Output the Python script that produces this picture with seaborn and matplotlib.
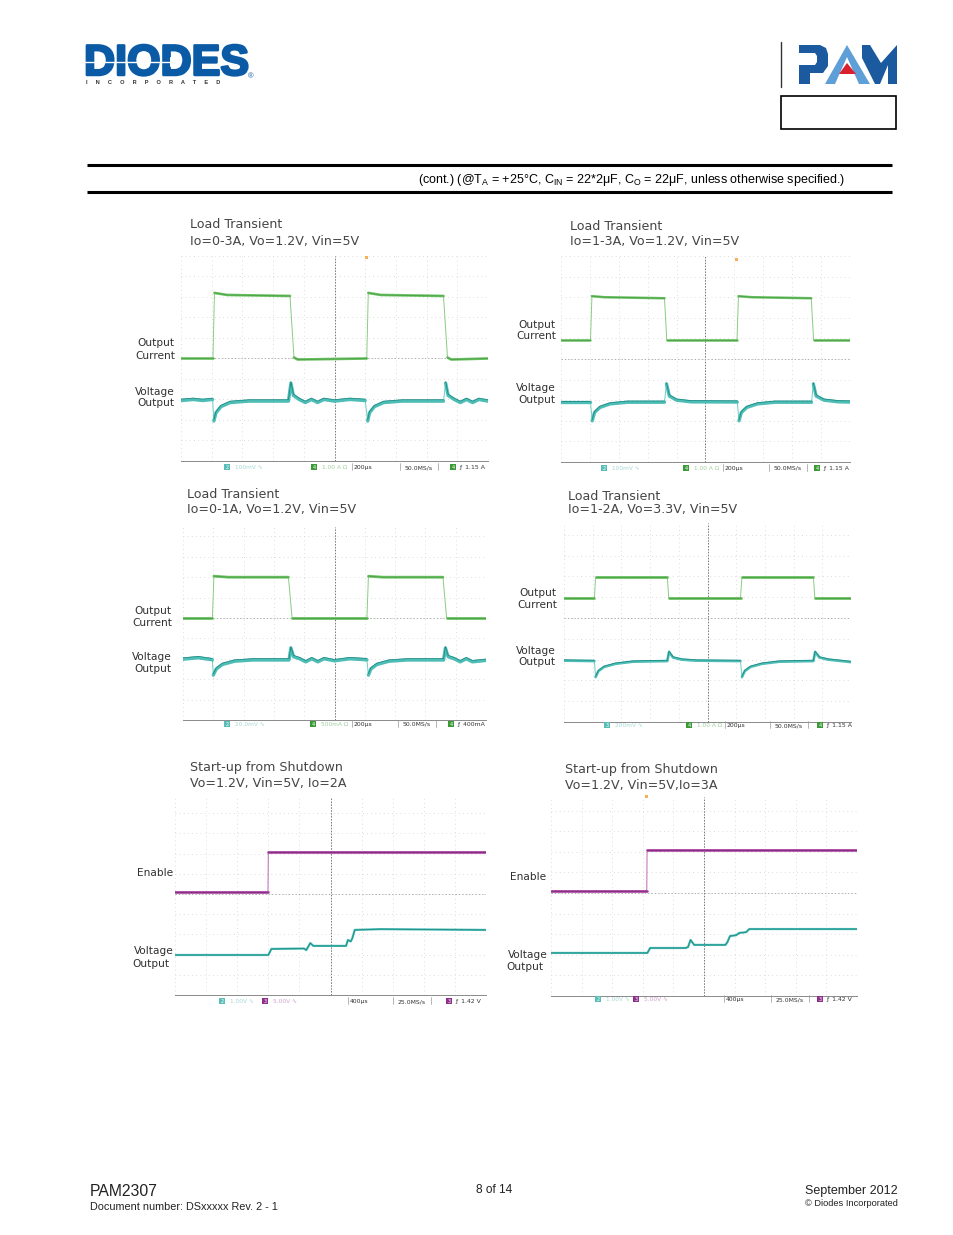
"""Datasheet page with six oscilloscope captures (load transient and start-up)."""

import matplotlib.patheffects as pe
import matplotlib.pyplot as plt
import pandas as pd
import seaborn as sns
from matplotlib.patches import Polygon, Rectangle

PAGE_W, PAGE_H = 954, 1235
GREEN, GREEN_DARK = "#6cc063", "#3f9a3c"
TEAL, TEAL_DARK = "#4dbdb5", "#127f7a"
PURPLE, PURPLE_DARK = "#a9429f", "#7c2478"
TITLE_GREY = "#454545"

# traces, in scope divisions
T1_CUR = [0, 1.04, 1.09, 1.5, 3.55, 3.68, 3.8, 6.05, 6.1, 6.5, 8.55, 8.68, 8.8, 10]
L1_CUR = [5.0, 5.0, 8.2, 8.1, 8.05, 5.05, 4.95, 5.0, 8.2, 8.1, 8.05, 5.05, 4.95, 5.0]
T1_VOLT = [0, 0.4, 0.7, 1.03, 1.07, 1.14, 1.3, 1.6, 2.2, 3.5, 3.58, 3.66, 3.85, 4.05, 4.25, 4.45, 4.65, 5.0, 5.5, 6.0, 6.08, 6.14, 6.3, 6.6, 7.2, 8.55, 8.62, 8.7, 8.9, 9.1, 9.3, 9.5, 9.7, 10]
L1_VOLT = [2.95, 3.0, 2.95, 3.0, 1.95, 2.35, 2.65, 2.85, 2.92, 2.92, 3.8, 3.2, 3.0, 2.85, 3.0, 2.85, 3.0, 2.92, 3.0, 2.95, 1.95, 2.35, 2.65, 2.85, 2.92, 2.92, 3.8, 3.2, 3.0, 2.85, 3.0, 2.85, 3.0, 2.92]

T2_CUR = [0, 1.02, 1.07, 1.5, 3.58, 3.66, 6.09, 6.14, 6.6, 8.66, 8.74, 10]
L2_CUR = [5.92, 5.92, 8.05, 8.0, 7.95, 5.92, 5.92, 8.05, 8.0, 7.95, 5.92, 5.92]
T2_VOLT = [0, 1.02, 1.08, 1.16, 1.35, 1.7, 2.3, 3.58, 3.65, 3.75, 4.0, 4.5, 6.1, 6.16, 6.24, 6.43, 6.8, 7.4, 8.67, 8.73, 8.83, 9.1, 9.6, 10]
L2_VOLT = [2.91, 2.91, 2.0, 2.4, 2.65, 2.82, 2.9, 2.9, 3.79, 3.2, 3.0, 2.92, 2.91, 2.0, 2.4, 2.65, 2.82, 2.9, 2.9, 3.79, 3.2, 3.0, 2.92, 2.91]

T3_CUR = [0, 0.97, 1.02, 1.5, 3.48, 3.6, 6.07, 6.12, 6.6, 8.58, 8.7, 10]
L3_CUR = [5.0, 5.0, 7.05, 7.0, 7.0, 5.0, 5.0, 7.05, 7.0, 7.0, 5.0, 5.0]
T3_VOLT = [0, 0.5, 0.97, 1.0, 1.1, 1.3, 1.7, 2.3, 3.5, 3.56, 3.65, 3.85, 4.05, 4.25, 4.45, 4.65, 5.0, 5.5, 6.07, 6.12, 6.2, 6.4, 6.8, 7.4, 8.6, 8.66, 8.75, 8.95, 9.15, 9.35, 9.55, 10]
L3_VOLT = [2.98, 3.05, 2.95, 2.2, 2.5, 2.72, 2.88, 2.94, 2.94, 3.53, 3.1, 3.0, 2.85, 3.0, 2.85, 3.0, 2.9, 3.0, 2.95, 2.2, 2.5, 2.72, 2.88, 2.94, 2.94, 3.53, 3.1, 3.0, 2.85, 3.0, 2.85, 2.92]

T4_CUR = [0, 1.06, 1.1, 1.5, 3.6, 3.65, 6.15, 6.2, 6.6, 8.69, 8.74, 10]
L4_CUR = [5.96, 5.96, 6.97, 6.97, 6.97, 5.96, 5.96, 6.97, 6.97, 6.97, 5.96, 5.96]
T4_VOLT = [0, 1.06, 1.1, 1.2, 1.4, 1.8, 2.4, 3.6, 3.66, 3.8, 4.1, 4.6, 6.15, 6.2, 6.3, 6.5, 6.9, 7.5, 8.69, 8.75, 8.9, 9.2, 10]
L4_VOLT = [2.95, 2.93, 2.16, 2.45, 2.65, 2.8, 2.9, 2.93, 3.37, 3.1, 3.0, 2.95, 2.93, 2.16, 2.45, 2.65, 2.8, 2.9, 2.93, 3.37, 3.1, 3.0, 2.88]

T5_EN = [0, 2.99, 3.0, 10]
L5_EN = [5.1, 5.1, 7.08, 7.08]
T5_VOLT = [0, 3.0, 3.1, 4.15, 4.22, 4.35, 4.45, 5.5, 5.56, 5.65, 5.7, 5.78, 6.6, 10]
L5_VOLT = [1.98, 1.98, 2.28, 2.3, 2.22, 2.57, 2.43, 2.43, 2.72, 2.65, 2.8, 3.22, 3.26, 3.22]

T6_EN = [0, 3.13, 3.14, 10]
L6_EN = [5.1, 5.1, 7.09, 7.09]
T6_VOLT = [0, 3.15, 3.24, 4.4, 4.48, 4.56, 4.68, 5.7, 5.76, 5.85, 6.05, 6.15, 6.38, 6.48, 10]
L6_VOLT = [2.09, 2.09, 2.33, 2.33, 2.38, 2.72, 2.48, 2.48, 2.6, 2.91, 2.95, 3.06, 3.1, 3.25, 3.25]

PANEL_TITLES = [
    ("Load Transient", "Io=0-3A, Vo=1.2V, Vin=5V"),
    ("Load Transient", "Io=1-3A, Vo=1.2V, Vin=5V"),
    ("Load Transient", "Io=0-1A, Vo=1.2V, Vin=5V"),
    ("Load Transient", "Io=1-2A, Vo=3.3V, Vin=5V"),
    ("Start-up from Shutdown", "Vo=1.2V, Vin=5V, Io=2A"),
    ("Start-up from Shutdown", "Vo=1.2V, Vin=5V,Io=3A"),
]
STATUS_LABELS = [
    ("2", "100mV ∿", "4", "1.00 A Ω", "200μs", "50.0MS/s", "4", "ƒ  1.15 A"),
    ("2", "100mV ∿", "4", "1.00 A Ω", "200μs", "50.0MS/s", "4", "ƒ  1.15 A"),
    ("2", "20.0mV ∿", "4", "500mA Ω", "200μs", "50.0MS/s", "4", "ƒ  400mA"),
    ("3", "200mV ∿", "4", "1.00 A Ω", "200μs", "50.0MS/s", "4", "ƒ  1.15 A"),
    ("2", "1.00V ∿", "3", "5.00V ∿", "400μs", "25.0MS/s", "3", "ƒ  1.42 V"),
    ("2", "1.00V ∿", "3", "5.00V ∿", "400μs", "25.0MS/s", "3", "ƒ  1.42 V"),
]

sns.set_style("white")
plt.rcParams["font.family"] = ["Liberation Sans", "DejaVu Sans"]
plt.rcParams["mathtext.fontset"] = "custom"
plt.rcParams["mathtext.rm"] = "Liberation Sans"
plt.rcParams["mathtext.it"] = "Liberation Sans"

fig = plt.figure(figsize=(PAGE_W / 100, PAGE_H / 100), dpi=100, facecolor="white")

# whole page in pixel coordinates, for the furniture round the scope shots
page = fig.add_axes([0, 0, 1, 1], zorder=5)
page.set_xlim(0, PAGE_W)
page.set_ylim(PAGE_H, 0)
page.axis("off")
page.patch.set_alpha(0)


def split_segments(times, levels, steep=12):
    """Label the flat runs of a trace, dropping the fast edges."""
    rows = []
    seg = 0
    for i, (t, v) in enumerate(zip(times, levels)):
        if i and abs(v - levels[i - 1]) / max(t - times[i - 1], 1e-6) > steep:
            seg += 1
        rows.append((t, v, seg))
    return pd.DataFrame(rows, columns=["t", "v", "seg"])


def draw_trace(ax, times, levels, color, dark, width, lift):
    df = split_segments(times, levels)
    top = df.assign(v=df["v"] + lift)
    sns.lineplot(data=df, x="t", y="v", ax=ax, color=color, lw=0.7, sort=False, estimator=None, alpha=0.8)
    sns.lineplot(data=df, x="t", y="v", units="seg", ax=ax, color=color, lw=width, sort=False, estimator=None)
    sns.lineplot(data=top, x="t", y="v", units="seg", ax=ax, color=dark, lw=0.55, sort=False, estimator=None, alpha=0.85)


def scope(rect, ytop, traces):
    x0, top, x1, bottom = rect
    ax = fig.add_axes([x0 / PAGE_W, 1 - bottom / PAGE_H, (x1 - x0) / PAGE_W, (bottom - top) / PAGE_H])
    ax.patch.set_alpha(0)
    for spine in ["top", "left", "right"]:
        ax.spines[spine].set_visible(False)
    ax.spines["bottom"].set_color("#8a8a8a")
    ax.spines["bottom"].set_linewidth(0.7)
    ax.set_xlim(0, 10)
    ax.set_ylim(0, ytop)
    ax.set_xticks(range(11))
    ax.set_yticks(range(11 if ytop >= 10 else int(ytop) + 1))
    ax.tick_params(length=0, labelbottom=False, labelleft=False)
    ax.grid(True, color="#d2d2d2", lw=0.6, linestyle=(0, (1, 4)))
    ax.axvline(5, color="#777777", lw=0.7, linestyle=(0, (1.5, 1.5)))
    ax.axhline(5, color="#a0a0a0", lw=0.6, linestyle=(0, (1.5, 2.5)))
    for times, levels, color, dark, width, lift in traces:
        draw_trace(ax, times, levels, color, dark, width, lift)
    ax.set_xlabel("")
    ax.set_ylabel("")
    return ax


scope((181, 256, 488, 461), 10, [(T1_CUR, L1_CUR, GREEN, GREEN_DARK, 1.9, 0), (T1_VOLT, L1_VOLT, TEAL, TEAL_DARK, 2.4, 0.07)])
scope((561, 256, 850, 462), 10, [(T2_CUR, L2_CUR, GREEN, GREEN_DARK, 1.8, 0), (T2_VOLT, L2_VOLT, TEAL, TEAL_DARK, 2.4, 0.06)])
scope((183, 527, 486, 720), 9.46, [(T3_CUR, L3_CUR, GREEN, GREEN_DARK, 2.0, 0), (T3_VOLT, L3_VOLT, TEAL, TEAL_DARK, 2.4, 0.07)])
scope((564, 523, 851, 722), 9.57, [(T4_CUR, L4_CUR, GREEN, GREEN_DARK, 2.0, 0), (T4_VOLT, L4_VOLT, TEAL, TEAL_DARK, 1.9, 0.04)])
scope((175, 798, 486, 995), 9.75, [(T5_EN, L5_EN, PURPLE, PURPLE_DARK, 1.9, 0), (T5_VOLT, L5_VOLT, TEAL, TEAL_DARK, 1.6, 0)])
scope((551, 797, 857, 996), 9.66, [(T6_EN, L6_EN, PURPLE, PURPLE_DARK, 1.9, 0), (T6_VOLT, L6_VOLT, TEAL, TEAL_DARK, 1.6, 0)])


def ptext(x, y, s, size=8.4, ha="left", color="#333333", va="center", **kw):
    page.text(x, y, s, fontsize=size, ha=ha, va=va, color=color, **kw)


# panel titles and channel labels
title_pos = [(190, 225, 241), (570, 226, 241), (187, 494, 510), (568, 496, 510), (190, 767, 783), (565, 770, 785)]
for (tx, y1, y2), (line1, line2) in zip(title_pos, PANEL_TITLES):
    ptext(tx, y1, line1, size=9.05, color=TITLE_GREY, family="DejaVu Sans")
    ptext(tx, y2, line2, size=9.05, color=TITLE_GREY, family="DejaVu Sans")

channel_labels = [
    (175, 343, "Output"), (175, 356, "Current"), (175, 392, "Voltage"), (175, 403, "Output"),
    (556, 325, "Output"), (556, 336, "Current"), (556, 388, "Voltage"), (556, 400, "Output"),
    (172, 611, "Output"), (172, 623, "Current"), (172, 657, "Voltage"), (172, 669, "Output"),
    (557, 593, "Output"), (557, 605, "Current"), (556, 651, "Voltage"), (556, 662, "Output"),
    (173, 873, "Enable"), (174, 951, "Voltage"), (170, 964, "Output"),
    (546, 877, "Enable"), (548, 955, "Voltage"), (544, 967, "Output"),
]
for lx, ly, s in channel_labels:
    ptext(lx, ly, s, size=7.6, ha="right", color="#303030", family="DejaVu Sans")

# status strip under each capture
strip_pos = [
    (227, 314, 354, 419, 453, 469), (604, 686, 725, 788, 817, 470),
    (227, 313, 354, 417, 451, 726), (607, 689, 727, 789, 820, 727),
    (222, 265, 350, 412, 449, 1003), (598, 636, 726, 790, 820, 1001),
]
chip_colours = [
    ("#57bdb6", "#3a9a36", "#3a9a36", "#a7d8d4", "#9fcf9b"),
    ("#57bdb6", "#3a9a36", "#3a9a36", "#a7d8d4", "#9fcf9b"),
    ("#57bdb6", "#3a9a36", "#3a9a36", "#a7d8d4", "#9fcf9b"),
    ("#57bdb6", "#3a9a36", "#3a9a36", "#a7d8d4", "#9fcf9b"),
    ("#57bdb6", "#8e2f8c", "#8e2f8c", "#a7d8d4", "#cf9fcd"),
    ("#57bdb6", "#8e2f8c", "#8e2f8c", "#a7d8d4", "#cf9fcd"),
]
for (a, b, c, d, e, y), labels, cols in zip(strip_pos, STATUS_LABELS, chip_colours):
    for cx, num, col in [(a, labels[0], cols[0]), (b, labels[2], cols[1]), (e, labels[6], cols[2])]:
        page.add_patch(Rectangle((cx - 3, y - 5), 6, 5.5, color=col, lw=0))
        ptext(cx, y, num, size=3.6, ha="center", color="white", va="baseline", family="DejaVu Sans")
    ptext(a + 8, y, labels[1], size=4.2, color=cols[3], va="baseline", family="DejaVu Sans")
    ptext(b + 8, y, labels[3], size=4.2, color=cols[4], va="baseline", family="DejaVu Sans")
    ptext(c, y, labels[4], size=4.4, color="#333333", va="baseline", family="DejaVu Sans")
    ptext(d, y, labels[5], size=4.4, ha="center", color="#333333", va="baseline", family="DejaVu Sans")
    ptext(e + 6, y, labels[7], size=4.4, color="#333333", va="baseline", family="DejaVu Sans")
    page.plot([c - 2, c - 2], [y - 6, y + 1], color="#999999", lw=0.5)
    page.plot([d - 19, d - 19], [y - 6, y + 1], color="#999999", lw=0.5)
    page.plot([d + 19, d + 19], [y - 6, y + 1], color="#999999", lw=0.5)

# trigger markers
for mx, my in [(367, 257), (737, 259), (647, 796)]:
    page.add_patch(Rectangle((mx - 1.5, my - 1.5), 3, 3, color="#f5b05a", lw=0))

# header rules and conditions line
page.plot([87, 892], [164.5, 164.5], color="black", lw=2.2, solid_capstyle="butt")
page.plot([87, 892], [191.5, 191.5], color="black", lw=2.2, solid_capstyle="butt")
ptext(418, 180, r"(cont.) (@T$_{\mathrm{A}}$ = +25°C, C$_{\mathrm{IN}}$ = 22*2μF, C$_{\mathrm{O}}$ = 22μF, unless otherwise specified.)",
      size=9, color="black")

# Diodes logo
DIODES_BLUE = "#0b5aa6"
page.text(84, 64, "DIODES", fontsize=31, fontweight="bold", color=DIODES_BLUE, ha="left", va="center",
          path_effects=[pe.withStroke(linewidth=1.8, foreground=DIODES_BLUE)])
page.plot([85, 172], [62, 62], color="white", lw=1.0, zorder=4)
page.add_patch(Polygon([(170, 57), (180, 62), (170, 67)], color="white", lw=0, zorder=4))
page.text(86, 83, "     ".join("INCORPORATED"), fontsize=4.1, fontweight="bold", color="#333333", ha="left", va="center")
page.text(251, 77, "®", fontsize=5.5, color=DIODES_BLUE, ha="center", va="center")

# PAM logo and part number box
PAM_DARK, PAM_LIGHT = "#1b5a9e", "#5e9fd8"
page.plot([781, 781], [42, 87], color="#333333", lw=1.0)
page.add_patch(Polygon([(799, 45), (820, 45), (826, 48), (828, 54), (828, 66), (823, 73), (810, 73), (810, 84),
                        (799, 84), (799, 65), (815, 65), (817, 62), (817, 56), (815, 53), (799, 53)],
                       color=PAM_DARK, lw=0))
page.add_patch(Polygon([(847, 45), (870, 84), (859, 84), (847, 57), (835, 84), (825, 84)], color=PAM_LIGHT, lw=0))
page.add_patch(Polygon([(847, 63), (856, 74), (839, 74)], color="#d9202c", lw=0))
page.add_patch(Polygon([(862, 45), (870, 45), (881, 63), (897, 45), (897, 84), (888, 84), (888, 65), (880, 84),
                        (875, 84), (862, 58)], color=PAM_DARK, lw=0))
page.add_patch(Rectangle((781.5, 96), 115, 33, fill=False, ec="black", lw=1.2))

# footer
ptext(90, 1191, "PAM2307", size=11.3, color="#222222")
ptext(90, 1207, "Document number: DSxxxxx Rev. 2 - 1", size=7.8, color="#222222")
ptext(494, 1190, "8 of 14", size=8.6, ha="center", color="#222222")
ptext(898, 1191, "September 2012", size=9.0, ha="right", color="#222222")
ptext(898, 1204, "© Diodes Incorporated", size=6.7, ha="right", color="#222222")

fig.savefig("out.png", dpi=100)
